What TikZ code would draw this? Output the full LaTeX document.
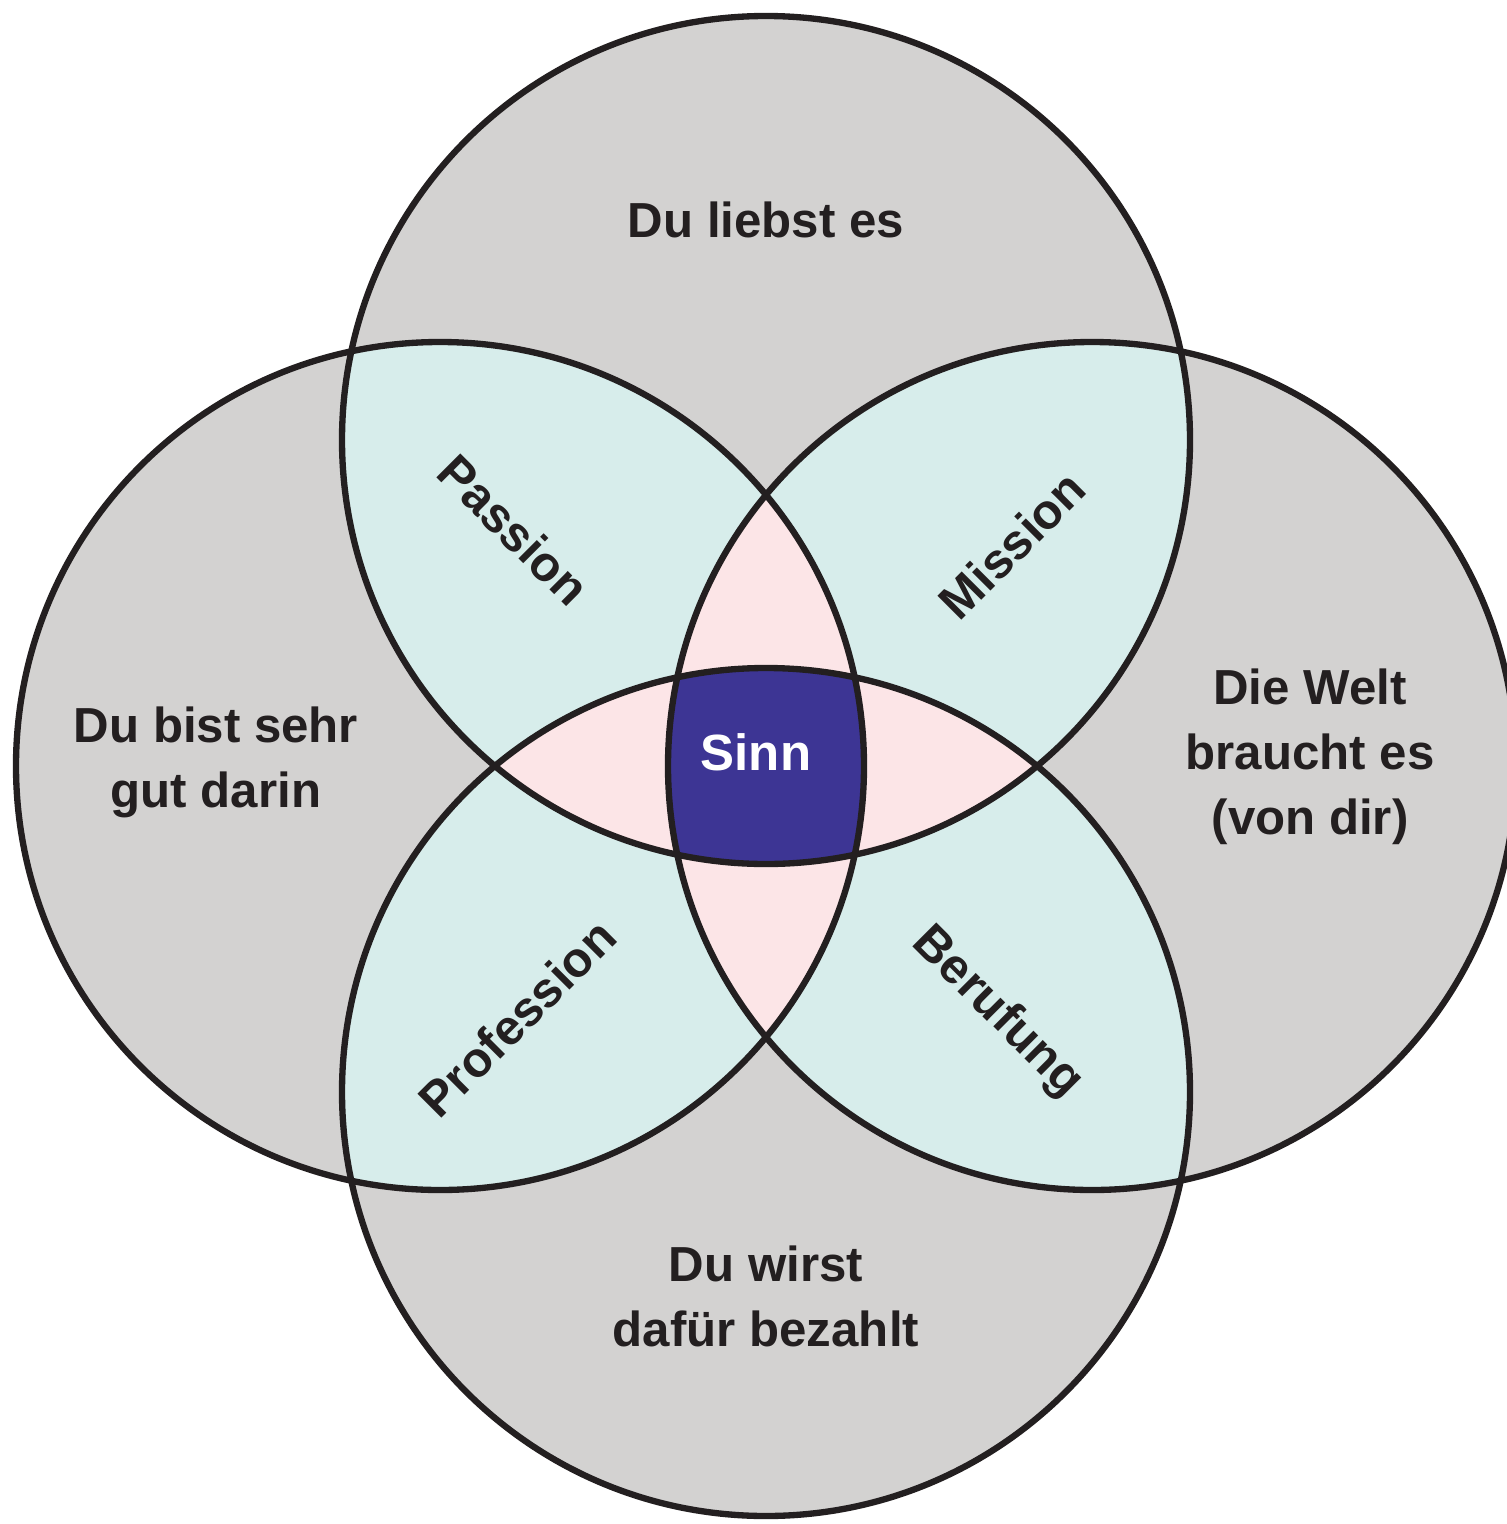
\documentclass[tikz,border=0pt]{standalone}
\usepackage{fontspec}
\setmainfont{Liberation Sans}

\definecolor{ringgray}{HTML}{D3D2D1}
\definecolor{pairteal}{HTML}{D7EDEB}
\definecolor{triplepink}{HTML}{FCE5E7}
\definecolor{sinnblue}{HTML}{3D3594}
\definecolor{inkline}{HTML}{231F20}

\begin{document}
\begin{tikzpicture}[
	ring/.style = {circle, draw = inkline, line width = 1.8pt, minimum size = 8.48cm, inner sep = 0pt},
	areatext/.style = {font = \bfseries\fontsize{14}{18.5}\selectfont, text = inkline, align = center},
	pairtext/.style = {font = \bfseries\fontsize{14}{18.5}\selectfont, text = inkline},
	centertext/.style = {font = \bfseries\fontsize{14.5}{18}\selectfont, text = white}
]
	\useasboundingbox (0, 0) rectangle (15.06, -15.24);
	\def\R{4.24}
	
	% centres
	\coordinate (love) at (7.66, -4.40);
	\coordinate (skill) at (4.40, -7.66);
	\coordinate (world) at (10.92, -7.66);
	\coordinate (pay) at (7.66, -10.92);
	
	% one circle
	\fill [ringgray] (love) circle (\R);
	\fill [ringgray] (skill) circle (\R);
	\fill [ringgray] (world) circle (\R);
	\fill [ringgray] (pay) circle (\R);
	
	% two circles
	\begin{scope}
	\clip (love) circle (\R);
	\fill [pairteal] (skill) circle (\R);
	\fill [pairteal] (world) circle (\R);
	\end{scope}
	\begin{scope}
	\clip (pay) circle (\R);
	\fill [pairteal] (skill) circle (\R);
	\fill [pairteal] (world) circle (\R);
	\end{scope}
	
	% three circles
	\begin{scope}
	\clip (love) circle (\R);
	\clip (skill) circle (\R);
	\fill [triplepink] (world) circle (\R);
	\fill [triplepink] (pay) circle (\R);
	\end{scope}
	\begin{scope}
	\clip (pay) circle (\R);
	\clip (world) circle (\R);
	\fill [triplepink] (love) circle (\R);
	\fill [triplepink] (skill) circle (\R);
	\end{scope}
	
	% four circles
	\begin{scope}
	\clip (love) circle (\R);
	\clip (skill) circle (\R);
	\clip (world) circle (\R);
	\fill [sinnblue] (pay) circle (\R);
	\end{scope}
	
	% outlines
	\node [ring] (loveRing) at (love) {};
	\node [ring] (skillRing) at (skill) {};
	\node [ring] (worldRing) at (world) {};
	\node [ring] (payRing) at (pay) {};
	
	% circle texts
	\node [areatext] (loveText) at (7.66, -2.20) {Du liebst es};
	\node [areatext] (skillText) at (2.16, -7.62) {Du bist sehr\\gut darin};
	\node [areatext] (worldText) at (13.10, -7.57) {Die Welt\\braucht es\\(von dir)};
	\node [areatext] (payText) at (7.66, -12.96) {Du wirst\\dafür bezahlt};
	
	% overlap texts
	\node [pairtext, rotate = -45] (passionText) at (5.14, -5.30) {Passion};
	\node [pairtext, rotate = 45] (missionText) at (10.12, -5.45) {Mission};
	\node [pairtext, rotate = 45] (professionText) at (5.17, -10.18) {Profession};
	\node [pairtext, rotate = -45] (berufungText) at (9.97, -10.13) {Berufung};
	
	\node [centertext] (sinnText) at (7.56, -7.52) {Sinn};
\end{tikzpicture}
\end{document}
